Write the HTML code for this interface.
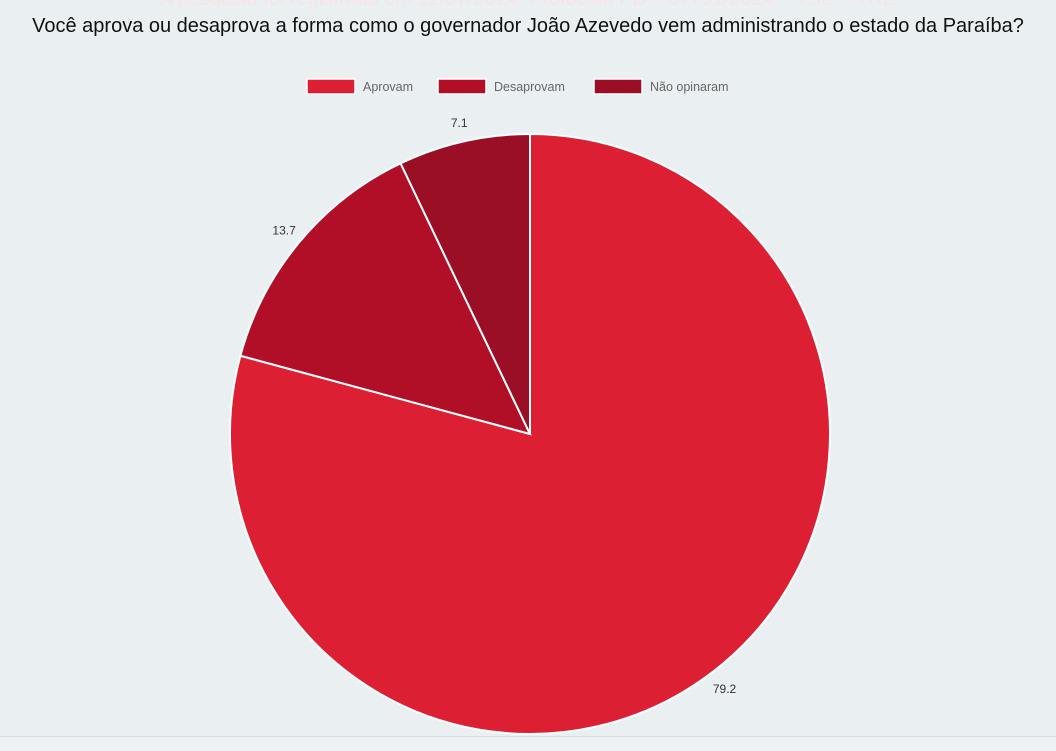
<!DOCTYPE html>
<html><head><meta charset="utf-8"><style>
body{margin:0;width:1056px;height:750px;background:#eaeff2;font-family:"Liberation Sans",sans-serif;overflow:hidden;position:relative}
.sub{position:absolute;top:-12px;width:100%;text-align:center;font-size:20px;color:#f8e3e7}
.title{position:absolute;top:15px;width:100%;text-align:center;font-size:20px;color:#111}
.foot{position:absolute;top:736px;left:0;width:1056px;height:14px;border-top:1px solid #d8dde0;background:#edf1f3}
</style></head><body>
<div class="sub">A pesquisa foi registrada em 12/07/2024. Protocolo PB – 07791/2024 – TSE – TRE</div>
<div class="title">Você aprova ou desaprova a forma como o governador João Azevedo vem administrando o estado da Paraíba?</div>
<svg id="chart" width="1056" height="750" style="position:absolute;left:0;top:0"></svg>
<div class="foot"></div>
<script>
const categories=["Aprovam","Desaprovam","Não opinaram"];
const values=[79.2,13.7,7.1];
const colors=["#dc1f32","#b10f27","#9a0e26"];
const svg=document.getElementById('chart');
const NS='http://www.w3.org/2000/svg';
const cx=530,cy=434,r=300;
const total=values.reduce((a,b)=>a+b,0);
function pt(a,rr){return [cx+rr*Math.sin(a),cy-rr*Math.cos(a)];}
let acc=0;
values.forEach((v,i)=>{
  const a0=acc/total*2*Math.PI; acc+=v; const a1=acc/total*2*Math.PI;
  const p0=pt(a0,r),p1=pt(a1,r);
  const path=document.createElementNS(NS,'path');
  path.setAttribute('d',`M${cx},${cy}L${p0[0]},${p0[1]}A${r},${r} 0 ${a1-a0>Math.PI?1:0} 1 ${p1[0]},${p1[1]}Z`);
  path.setAttribute('fill',colors[i]);path.setAttribute('stroke','#fff');path.setAttribute('stroke-width','2');
  
  
  svg.appendChild(path);
  const m=(a0+a1)/2,lp=pt(m,320);
  const t=document.createElementNS(NS,'text');
  t.setAttribute('x',lp[0]);t.setAttribute('y',lp[1]+5);t.setAttribute('text-anchor','middle');
  t.setAttribute('font-size','12');t.setAttribute('fill','#333');
  t.textContent=v;
  
  
  svg.appendChild(t);
});
const lx=[307,438,594];
categories.forEach((c,i)=>{
  const g=document.createElementNS(NS,'g');
  
  
  const rc=document.createElementNS(NS,'rect');
  rc.setAttribute('x',lx[i]);rc.setAttribute('y',79);rc.setAttribute('width',48);rc.setAttribute('height',15);
  rc.setAttribute('fill',colors[i]);rc.setAttribute('stroke','#fff');rc.setAttribute('stroke-width','1.5');
  g.appendChild(rc);
  const t=document.createElementNS(NS,'text');
  t.setAttribute('x',lx[i]+56);t.setAttribute('y',91);t.setAttribute('font-size','12.5');t.setAttribute('fill','#666');
  t.textContent=c;g.appendChild(t);
  svg.appendChild(g);
});
</script>
</body></html>
